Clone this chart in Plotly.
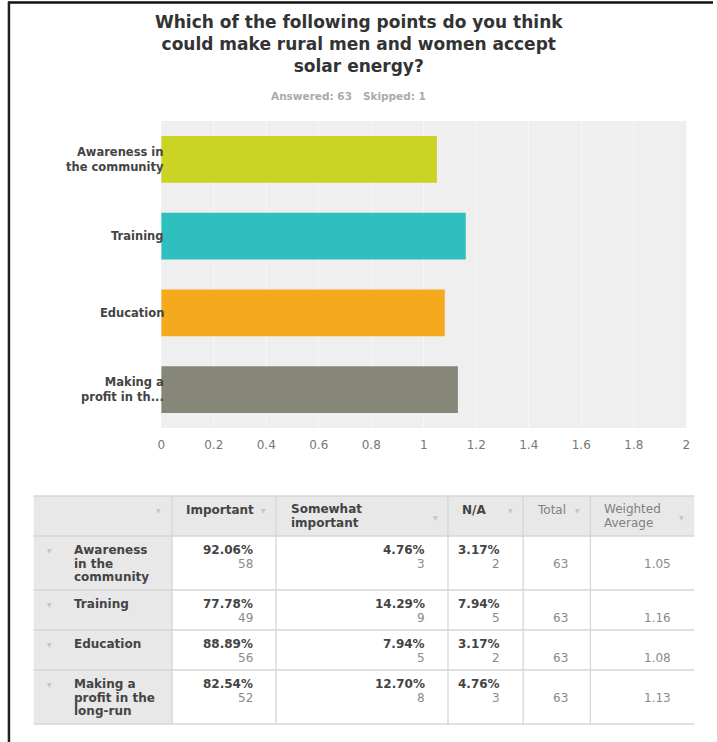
import plotly.graph_objects as go

# ---- survey data -------------------------------------------------------
categories = ["Awareness in the community", "Training", "Education",
              "Making a profit in the long-run"]
chart_labels = ["Awareness in<br>the community", "Training", "Education",
                "Making a<br>profit in th..."]
row_labels = ["Awareness\nin the\ncommunity", "Training", "Education",
              "Making a\nprofit in the\nlong-run"]
weighted_avg = [1.05, 1.16, 1.08, 1.13]
important_pct = [92.06, 77.78, 88.89, 82.54]
important_n = [58, 49, 56, 52]
somewhat_pct = [4.76, 14.29, 7.94, 12.70]
somewhat_n = [3, 9, 5, 8]
na_pct = [3.17, 7.94, 3.17, 4.76]
na_n = [2, 5, 2, 3]
totals = [63, 63, 63, 63]
answered, skipped = 63, 1
x_ticks = [0, 0.2, 0.4, 0.6, 0.8, 1, 1.2, 1.4, 1.6, 1.8, 2]
bar_colors = ["#cbd325", "#30bfbf", "#f5aa1e", "#868778"]

title_text = ("Which of the following points do you think<br>"
              "could make rural men and women accept<br>solar energy?")

# ---- page geometry (pixels) -------------------------------------------
W, H = 717, 742
FONT = "DejaVu Sans"


def px(x):
    return x / W


def py(y):
    return 1 - y / H


fig = go.Figure()

fig.add_trace(go.Bar(
    y=categories, x=weighted_avg, orientation="h",
    marker=dict(color=bar_colors, line=dict(width=0)),
    width=0.61, hoverinfo="x+y", showlegend=False,
))

annotations = []
shapes = []

# title and response counts
annotations.append(dict(
    text="<b>" + title_text + "</b>", x=px(359), y=py(44), xref="paper", yref="paper",
    xanchor="center", yanchor="middle", showarrow=False, align="center",
    font=dict(family=FONT, size=17, color="#333333"),
))
annotations.append(dict(
    text=f"<b>Answered: {answered}&nbsp;&nbsp;&nbsp;Skipped: {skipped}</b>",
    x=px(348), y=py(96), xref="paper", yref="paper", xanchor="center",
    yanchor="middle", showarrow=False,
    font=dict(family=FONT, size=10.5, color="#aaaaaa"),
))

# category labels next to the bars
for cat, lab in zip(categories, chart_labels):
    annotations.append(dict(
        text="<b>" + lab + "</b>", x=px(164), y=cat, xref="paper", yref="y",
        xanchor="right", yanchor="middle", align="right", showarrow=False,
        font=dict(family=FONT, size=11.5, color="#444444"),
    ))

# ---- summary table ----------------------------------------------------
col_x = [30, 170, 275, 449, 525, 593, 698]
row_y = [496, 536, 590, 630, 670, 724]
grid = "#d6d6d6"
head_fill = "#e8e8e8"
ARROW = "▼"


def text_lines(s, x, y0, step, anchor, size, color, bold):
    for i, line in enumerate(s.split("\n")):
        t = f"<b>{line}</b>" if bold else line
        annotations.append(dict(
            text=t, x=px(x), y=py(y0 + i * step), xref="paper", yref="paper",
            xanchor=anchor, yanchor="middle", showarrow=False,
            font=dict(family=FONT, size=size, color=color),
        ))


def arrow(x, y):
    annotations.append(dict(
        text=ARROW, x=px(x), y=py(y), xref="paper", yref="paper",
        xanchor="center", yanchor="middle", showarrow=False,
        font=dict(family=FONT, size=6, color="#c4c4c4"),
    ))


# fills
shapes.append(dict(type="rect", xref="paper", yref="paper", layer="below",
                   x0=px(col_x[0]), x1=px(col_x[-1]), y0=py(row_y[0]), y1=py(row_y[1]),
                   fillcolor=head_fill, line=dict(width=0)))
shapes.append(dict(type="rect", xref="paper", yref="paper", layer="below",
                   x0=px(col_x[0]), x1=px(col_x[1]), y0=py(row_y[1]), y1=py(row_y[-1]),
                   fillcolor=head_fill, line=dict(width=0)))
# grid lines
for yy in row_y:
    shapes.append(dict(type="line", xref="paper", yref="paper",
                       x0=px(col_x[0]), x1=px(col_x[-1]), y0=py(yy), y1=py(yy),
                       line=dict(color=grid, width=1.3)))
for xx in col_x[1:-1]:
    shapes.append(dict(type="line", xref="paper", yref="paper",
                       x0=px(xx), x1=px(xx), y0=py(row_y[0]), y1=py(row_y[-1]),
                       line=dict(color=grid, width=1.3)))

# header
dark, mid, light = "#444444", "#808080", "#8a8a8a"
arrow(156, 511)
text_lines("Important", 182, 510, 14, "left", 12, dark, True)
arrow(262, 511)
text_lines("Somewhat\nimportant", 288, 509, 14, "left", 12, dark, True)
arrow(436, 517)
text_lines("N/A", 461, 510, 14, "left", 12, dark, True)
arrow(512, 511)
text_lines("Total", 537, 510, 14, "left", 12, mid, False)
arrow(580, 511)
text_lines("Weighted\nAverage", 605, 509, 14, "left", 12, mid, False)
arrow(685, 517)

# body rows
pad = 21
for i, lab in enumerate(row_labels):
    top = row_y[i + 1]
    l1, l2 = top + 14, top + 27.5
    arrow(46, l1)
    text_lines(lab, 69, l1, 13.6, "left", 12, dark, True)
    for c, (pct, n) in enumerate([(important_pct[i], important_n[i]),
                                  (somewhat_pct[i], somewhat_n[i]),
                                  (na_pct[i], na_n[i])]):
        right = col_x[c + 2] - pad
        text_lines(f"{pct:.2f}%", right, l1, 0, "right", 12, dark, True)
        text_lines(str(n), right, l2, 0, "right", 12, light, False)
    text_lines(str(totals[i]), col_x[5] - pad, l2, 0, "right", 12, light, False)
    text_lines(f"{weighted_avg[i]:.2f}", col_x[6] - pad, l2, 0, "right", 12, light, False)

# page frame (top and left edges)
shapes.append(dict(type="line", xref="paper", yref="paper",
                   x0=px(4), x1=1, y0=py(2.5), y1=py(2.5),
                   line=dict(color="#111111", width=2.5)))
shapes.append(dict(type="line", xref="paper", yref="paper",
                   x0=px(5), x1=px(5), y0=py(2), y1=0,
                   line=dict(color="#222222", width=2.5)))

fig.update_layout(
    width=W, height=H, autosize=False,
    margin=dict(l=0, r=0, t=0, b=0),
    paper_bgcolor="white", plot_bgcolor="#efefef",
    font=dict(family=FONT),
    xaxis=dict(
        domain=[px(159), px(690)], range=[0, 2],
        tickvals=x_ticks, ticktext=[f"{v:g}" for v in x_ticks],
        showgrid=True, gridcolor="#f7f7f7", gridwidth=1,
        zeroline=False, showline=False,
        ticks="outside", ticklen=6, tickcolor="rgba(0,0,0,0)",
        tickfont=dict(family=FONT, size=12, color="#777777"),
        fixedrange=True,
    ),
    yaxis=dict(
        domain=[py(428), py(121)],
        categoryorder="array", categoryarray=categories,
        range=[3.5, -0.5], showticklabels=False, showgrid=False,
        zeroline=False, fixedrange=True,
    ),
    bargap=0.39,
    annotations=annotations,
    shapes=shapes,
)

fig.write_html("out.html")
